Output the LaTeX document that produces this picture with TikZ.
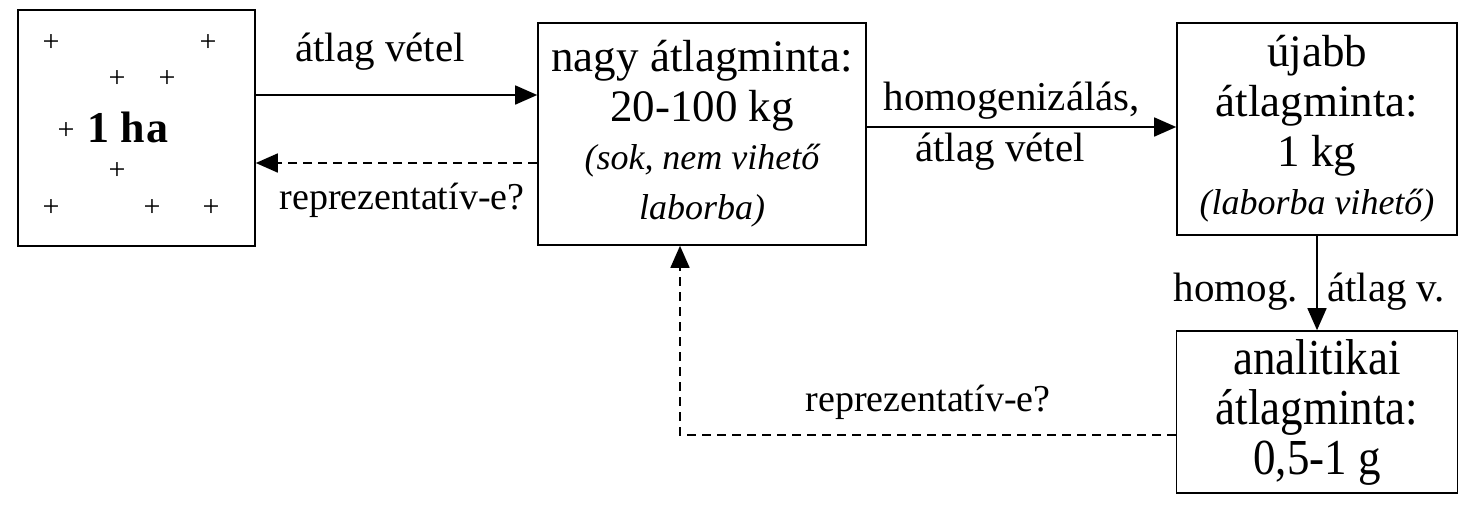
\documentclass[tikz,border=0pt]{standalone}
\usepackage{fontspec}
\setmainfont{Liberation Serif}
\usetikzlibrary{arrows.meta}
\tikzset{
  box/.style={draw, line width=1.6pt, inner sep=0pt, align=center},
  main/.style={font=\fontsize{45}{50}\selectfont},
  lbl/.style={font=\fontsize{41}{46}\selectfont, inner sep=0pt},
  qlbl/.style={font=\fontsize{38}{42}\selectfont, inner sep=0pt},
  pt/.style={font=\fontsize{30}{30}\selectfont, inner sep=0pt},
  arr/.style={line width=1.6pt, -{Triangle[length=22pt,width=19pt]}},
  darr/.style={arr, dash pattern=on 9pt off 6pt},
}
\newcommand{\itl}[1]{{\itshape\fontsize{36}{50}\selectfont #1}}
\newcommand{\tall}[1]{\scalebox{1}[1.12]{#1}}
\begin{document}
\begin{tikzpicture}[x=1pt, y=-1pt]
\useasboundingbox (0,0) rectangle (1463,515);
% field of 1 ha with sampling points
\node[box, minimum width=237pt, minimum height=236pt] (A) at (136.5,128) {};
\node[inner sep=0pt, font=\fontsize{44}{44}\selectfont\bfseries] (ha) at (128,127) {1 h\kern1pt a};
\foreach \i/\x/\y in {1/51/43, 2/208/43, 3/117/79, 4/167/79, 5/66/131, 6/117/171, 7/51/208, 8/152/208, 9/211/208}
  \node[pt] (p\i) at (\x,\y) {+};
% sample boxes
\node[box, main, minimum width=328pt, minimum height=222pt] (B) at (702,134)
  {nagy átlagminta:\\20-100 kg\\[-2pt]\itl{(sok, nem vihető}\\\itl{laborba)}};
\node[box, main, minimum width=280pt, minimum height=212pt] (C) at (1317,129)
  {újabb\\átlagminta:\\1 kg\\[-2pt]\itl{(laborba vihető)}};
\node[box, main, minimum width=281pt, minimum height=162pt] (D) at (1317,412)
  {\tall{analitikai}\\\tall{átlagminta:}\\\tall{0,5-1 g}};
% connectors
\draw[arr] ([yshift=33pt]A.east) -- ([yshift=33pt]A.east -| B.west);
\draw[darr] ([yshift=-29pt]B.west) -- ([yshift=-29pt]B.west -| A.east);
\draw[arr] ([yshift=7pt]B.east) -- ([yshift=7pt]B.east -| C.west);
\draw[arr] (C.south) -- (D.north);
\draw[darr] ([yshift=-23pt]D.west) -| ([xshift=-22pt]B.south);
% connector labels
\node[lbl] (l1) at (380,52) {átlag vétel};
\node[qlbl] (l2) at (402,200) {reprezentatív-e?};
\node[lbl] (l3) at (1012,101) {homogenizálás,};
\node[lbl] (l4) at (1000,152) {átlag vétel};
\node[lbl] (l5) at (1236,292) {homog.};
\node[lbl] (l6) at (1386,292) {átlag v.};
\node[qlbl] (l7) at (928,402) {reprezentatív-e?};
\end{tikzpicture}
\end{document}
